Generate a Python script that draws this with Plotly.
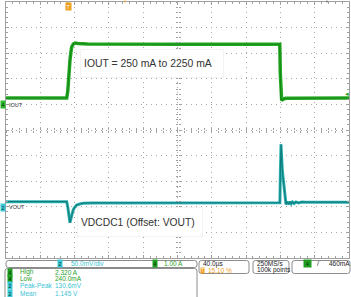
import plotly.graph_objects as go

# ---------------- data ----------------
# time in microseconds across the 10-division screen (40 us/div)
t_iout = [0, 70.8, 72.0, 72.7, 73.6, 74.6, 75.6, 76.6, 78.5, 80.5, 84, 95, 200,
          319.3, 319.9, 320.6, 321.5, 323, 326, 400]
iout_a = [0.25, 0.25, 0.50, 0.95, 1.35, 1.73, 2.02, 2.24, 2.36, 2.40, 2.38, 2.36, 2.35,
          2.35, 1.20, 0.20, 0.16, 0.20, 0.24, 0.25]

t_vout = [0, 70.8, 72.0, 73.2, 74.6, 75.6, 76.6, 78.0, 79.3, 82.4, 86, 90, 100, 200,
          319.4, 320.0, 320.7, 322.3, 324.0, 325.4, 326.5, 328, 329.5, 331, 332.5, 334,
          336, 338, 341, 345, 350, 400]
vout_mv = [10, 10, 0, -14, -31, -24, -16, -8, -3, 3.5, 5.5, 7, 7.5, 8,
           8, 70, 122, 70, 40, 17, 5, 10, 5, 10, 6, 9.5,
           6.5, 9.5, 7.5, 9.5, 9, 9]

iout_note = "IOUT = 250 mA to 2250 mA"
vout_note = "VDCDC1 (Offset: VOUT)"

ch2_scale = "50.0mV/div"
ch4_scale = "1.00 A"
time_scale = "40.0µs"
trig_pos = "15.10 %"
sample_rate = "250MS/s"
record_len = "100k points"
trig_level = "460mA"

meas_channels = ["4", "4", "2", "2"]
meas_names = ["High", "Low", "Peak-Peak", "Mean"]
meas_values = ["2.320 A", "240.0mA", "130.6mV", "1.145 V"]

# ---------------- helpers ----------------
W, H = 351, 297
def PX(x):
    return x / W
def PY(y):
    return 1 - y / H

GREEN = "#27a927"
GREEN_D = "#128a12"
CYAN_T = "#2fb3b3"
CYAN_D = "#0f7d7d"
TXT_G = "#2a9f2a"
TXT_C = "#3cc3d2"
ORANGE = "#f0a020"
GRID = "#a6a6a6"
FRAME = "#a0a0a0"
FONT = "Liberation Sans"

fig = go.Figure()
fig.add_trace(go.Scatter(x=t_iout, y=iout_a, mode="lines", xaxis="x", yaxis="y",
                         line=dict(color=GREEN, width=3.5), hoverinfo="skip", showlegend=False))
fig.add_trace(go.Scatter(x=t_iout, y=iout_a, mode="lines", xaxis="x", yaxis="y",
                         line=dict(color=GREEN_D, width=1.2), hoverinfo="skip", showlegend=False))
fig.add_trace(go.Scatter(x=t_vout, y=vout_mv, mode="lines", xaxis="x", yaxis="y2",
                         line=dict(color=CYAN_T, width=3), hoverinfo="skip", showlegend=False))
fig.add_trace(go.Scatter(x=t_vout, y=vout_mv, mode="lines", xaxis="x", yaxis="y2",
                         line=dict(color=CYAN_D, width=1.2), hoverinfo="skip", showlegend=False))
# dummy traces so that the centre-line axes are drawn
for xa, ya in [("x3", "y"), ("x4", "y"), ("x", "y3"), ("x", "y4")]:
    fig.add_trace(go.Scatter(x=[None], y=[None], xaxis=xa, yaxis=ya, showlegend=False,
                             hoverinfo="skip"))

xdom = [PX(6), PX(349)]
ydom = [PY(258), PY(2)]
xr = [0, 400]
yr = [-6, 4]

base_x = dict(domain=xdom, range=xr, showticklabels=False, zeroline=False, fixedrange=True)
base_y = dict(domain=ydom, range=yr, showticklabels=False, zeroline=False, fixedrange=True)

fig.update_layout(
    width=W, height=H, margin=dict(l=0, r=0, t=0, b=0),
    paper_bgcolor="white", plot_bgcolor="white", showlegend=False,
    xaxis=dict(**base_x, tick0=0, dtick=40, showgrid=True, gridcolor=GRID, gridwidth=1,
               griddash="1px,4px", showline=True, linecolor=FRAME, linewidth=1, mirror="ticks",
               ticks="inside", ticklen=3, tickcolor=FRAME,
               minor=dict(dtick=8, ticks="inside", ticklen=2, tickcolor=FRAME, showgrid=False)),
    yaxis=dict(**base_y, tick0=0, dtick=1, showgrid=True, gridcolor=GRID, gridwidth=1,
               griddash="1px,4px", showline=True, linecolor=FRAME, linewidth=1, mirror="ticks",
               ticks="inside", ticklen=3, tickcolor=FRAME,
               minor=dict(dtick=0.2, ticks="inside", ticklen=2, tickcolor=FRAME, showgrid=False)),
    yaxis2=dict(domain=ydom, range=[-100, 400], overlaying="y", visible=False, fixedrange=True),
    xaxis3=dict(**base_x, overlaying="x", anchor="free", position=PY(130), showgrid=False,
                showline=False, tick0=0, dtick=40, ticks="inside", ticklen=2, tickcolor=FRAME,
                minor=dict(dtick=8, ticks="inside", ticklen=2, tickcolor=FRAME)),
    xaxis4=dict(**base_x, overlaying="x", anchor="free", position=PY(130), showgrid=False,
                showline=False, tick0=0, dtick=40, ticks="outside", ticklen=2, tickcolor=FRAME,
                minor=dict(dtick=8, ticks="outside", ticklen=2, tickcolor=FRAME)),
    yaxis3=dict(**base_y, overlaying="y", anchor="free", position=PX(177.5), showgrid=False,
                showline=False, tick0=0, dtick=1, ticks="inside", ticklen=2, tickcolor=FRAME,
                minor=dict(dtick=0.2, ticks="inside", ticklen=2, tickcolor=FRAME)),
    yaxis4=dict(**base_y, overlaying="y", anchor="free", position=PX(177.5), showgrid=False,
                showline=False, tick0=0, dtick=1, ticks="outside", ticklen=2, tickcolor=FRAME,
                minor=dict(dtick=0.2, ticks="outside", ticklen=2, tickcolor=FRAME)),
)

ann = []
def text(x, y, s, size=6.5, color="#222222", xanchor="left", **kw):
    ann.append(dict(x=PX(x), y=PY(y), xref="paper", yref="paper", text=s, showarrow=False,
                    xanchor=xanchor, yanchor="middle",
                    font=dict(family=FONT, size=size, color=color), **kw))

def badge(x, y, s, fill, size=5):
    ann.append(dict(x=PX(x), y=PY(y), xref="paper", yref="paper", text=s, showarrow=False,
                    xanchor="center", yanchor="middle", bgcolor=fill, borderpad=0.5,
                    font=dict(family=FONT, size=size, color="#0b2b0b")))

# in-plot notes with white boxes
ann.append(dict(x=PX(80), y=PY(63.5), xref="paper", yref="paper", text=iout_note,
                showarrow=False, xanchor="left", yanchor="middle", align="left",
                width=136, height=21, borderpad=3, bgcolor="white", bordercolor="#f3f3f3",
                borderwidth=1, font=dict(family=FONT, size=10.4, color="#333333")))
ann.append(dict(x=PX(77), y=PY(222), xref="paper", yref="paper", text=vout_note,
                showarrow=False, xanchor="left", yanchor="middle", align="left",
                width=118, height=22, borderpad=3, bgcolor="white", bordercolor="#f3f3f3",
                borderwidth=1, font=dict(family=FONT, size=10.3, color="#333333")))

# channel ground markers and labels
badge(2.5, 104.5, "4", "#2db82d", size=5)
text(7, 104.5, "IOUT", size=5.5, color="#333333")
badge(2.5, 207, "2", "#3cc8d8", size=5)
text(7, 207, "VOUT", size=5.5, color="#333333")
# trigger marker
ann.append(dict(x=PX(68.5), y=PY(6.5), xref="paper", yref="paper", text="T", showarrow=False,
                xanchor="center", yanchor="middle", bgcolor=ORANGE, borderpad=0.5,
                font=dict(family=FONT, size=5.5, color="white")))
text(125, 1.5, "▼", size=4, color=ORANGE, xanchor="center")
text(327, 1.5, "▼", size=4, color="#777777", xanchor="center")
text(347, 93, "◂", size=7, color=GREEN, xanchor="center")

# bottom status boxes
row1_y = 263.5
row2_y = 270.2
badge(60, row1_y, "2", "#3cc8d8")
text(69, row1_y, ch2_scale, color=TXT_C)
badge(154.5, row1_y, "4", "#1e9e1e")
text(162, row1_y, ch4_scale, color=TXT_G)
text(201, row1_y, time_scale)
ann.append(dict(x=PX(202.5), y=PY(row2_y), xref="paper", yref="paper", text="T",
                showarrow=False, xanchor="center", yanchor="middle", bgcolor=ORANGE,
                borderpad=0, font=dict(family=FONT, size=4.5, color="white")))
text(206, row2_y, trig_pos, color=ORANGE)
text(255, row1_y, sample_rate)
text(255, row2_y, record_len)
badge(307.5, row1_y, " 4 ", "#1e9e1e")
text(318, row1_y, "/", size=7, xanchor="center")
text(327, row1_y, trig_level)

meas_y = [272, 278.7, 285.5, 293]
for ch, name, val, yy in zip(meas_channels, meas_names, meas_values, meas_y):
    col = TXT_G if ch == "4" else TXT_C
    fill = "#1e9e1e" if ch == "4" else "#3cc8d8"
    badge(10, yy, ch, fill)
    text(18, yy, name, color=col)
    text(53, yy, val, color=col)

fig.update_layout(annotations=ann)

def rr(x0, y0, x1, y1, r=2.5):
    p = (f"M {PX(x0 + r)},{PY(y0)} L {PX(x1 - r)},{PY(y0)} "
         f"Q {PX(x1)},{PY(y0)} {PX(x1)},{PY(y0 + r)} L {PX(x1)},{PY(y1 - r)} "
         f"Q {PX(x1)},{PY(y1)} {PX(x1 - r)},{PY(y1)} L {PX(x0 + r)},{PY(y1)} "
         f"Q {PX(x0)},{PY(y1)} {PX(x0)},{PY(y1 - r)} L {PX(x0)},{PY(y0 + r)} "
         f"Q {PX(x0)},{PY(y0)} {PX(x0 + r)},{PY(y0)} Z")
    return dict(type="path", path=p, xref="paper", yref="paper",
                line=dict(color="#8c8c8c", width=1), fillcolor="rgba(0,0,0,0)")

shapes = [
    rr(6, 260.5, 197, 267.5),
    rr(5, 268.5, 197, 305),
    rr(199, 260.5, 249, 273.5),
    rr(253, 260.5, 289, 273.5),
    rr(292, 260.5, 350, 273.5),
]
fig.update_layout(shapes=shapes)

fig.write_html("out.html")
